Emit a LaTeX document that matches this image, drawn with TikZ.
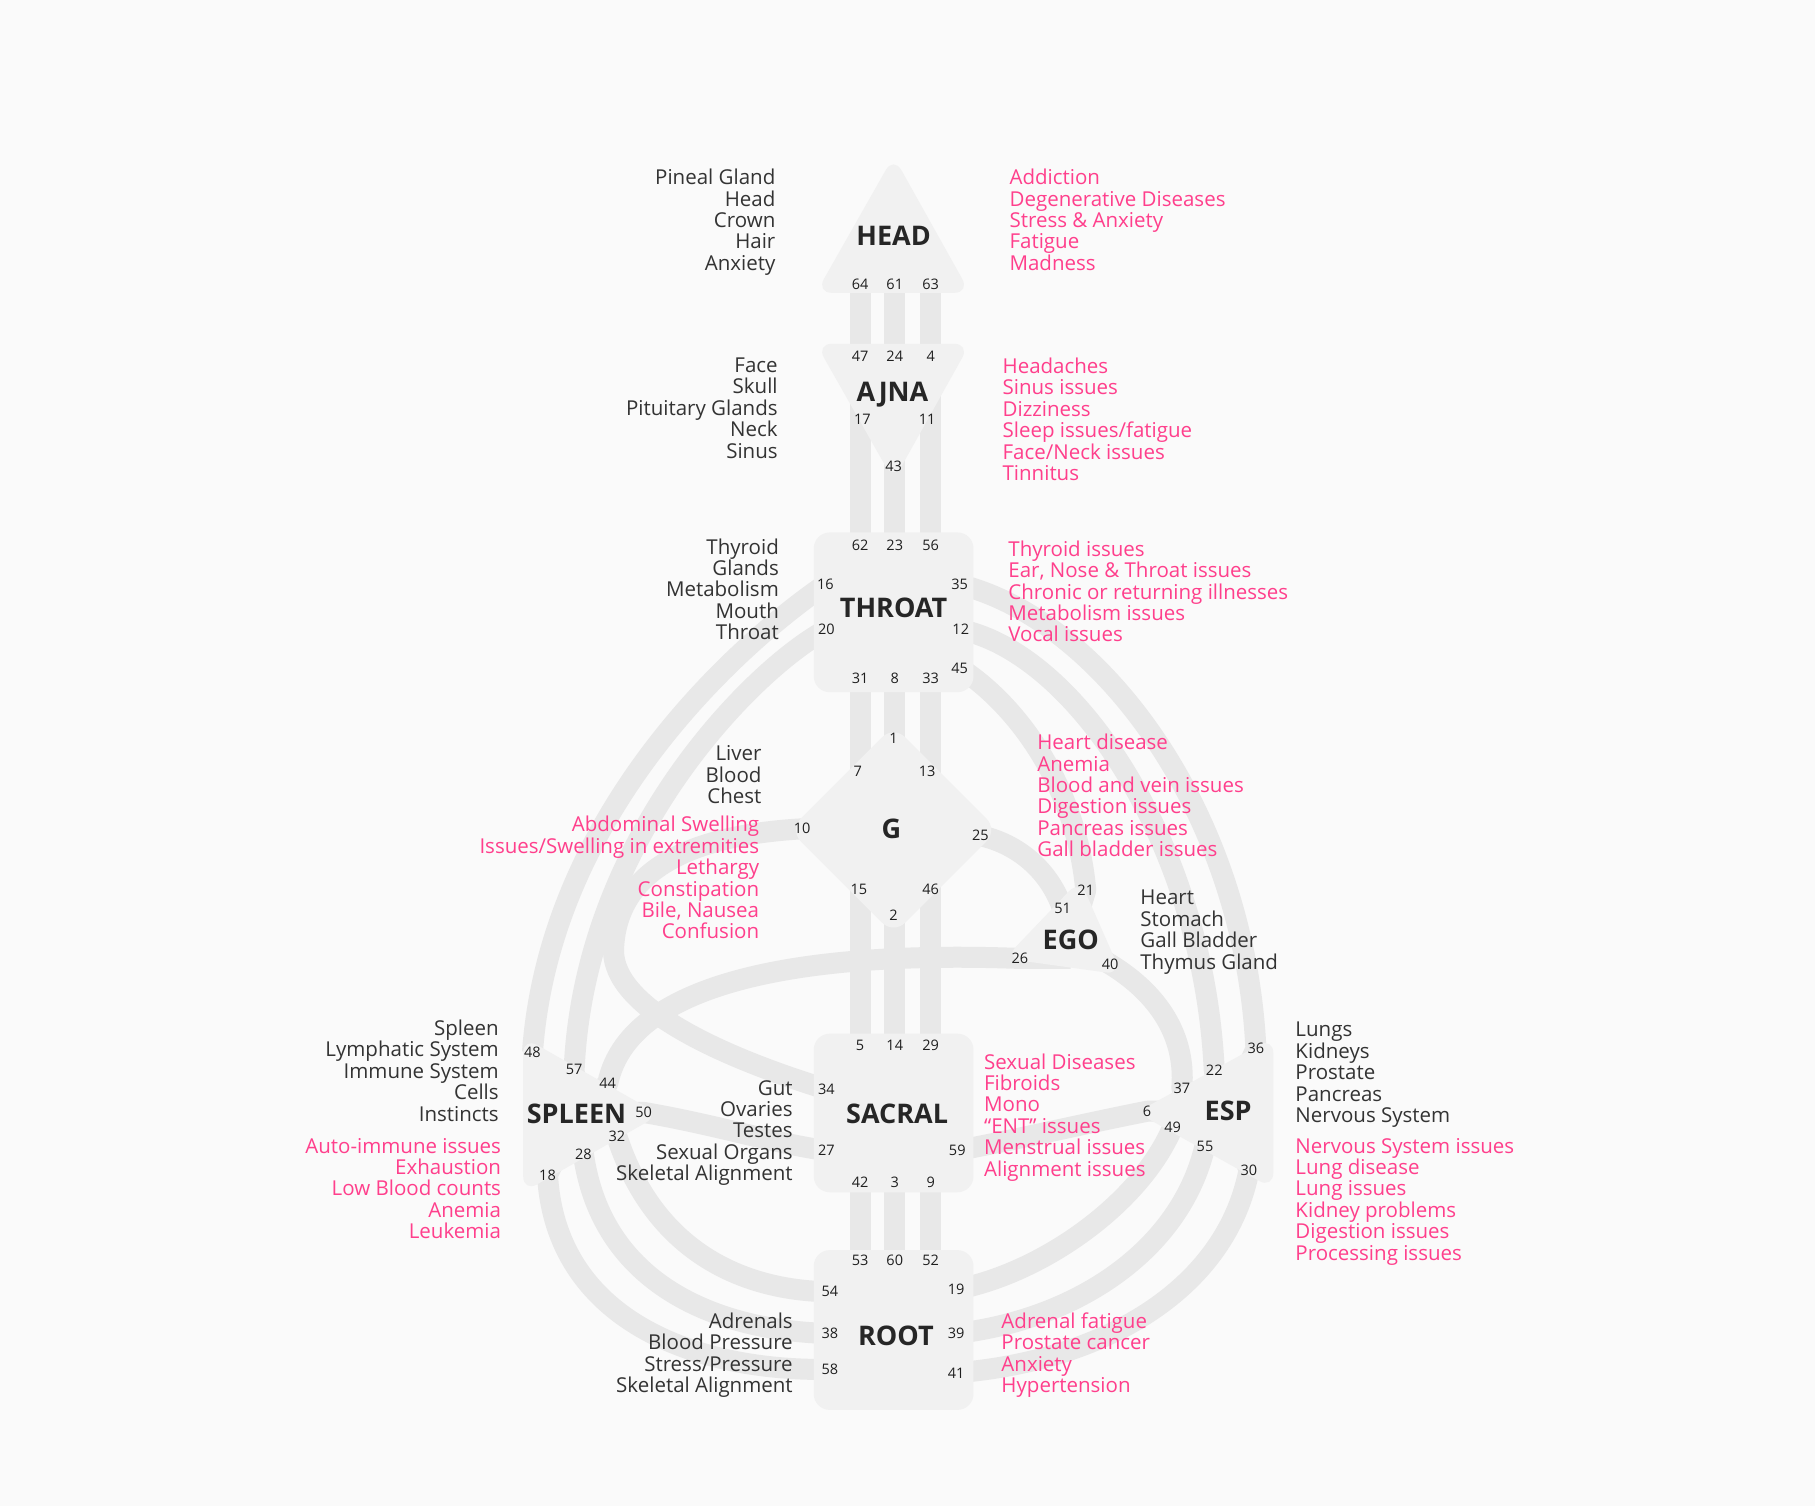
\documentclass[tikz,border=0pt]{standalone}
\usepackage{fontspec}
\setmainfont{Open Sans}
\usepackage{xcolor}
\usepackage{tikz}
\usetikzlibrary{backgrounds}

\definecolor{bgcol}{HTML}{FAFAFA}
\definecolor{chancol}{HTML}{E8E8E8}
\definecolor{ctrcol}{HTML}{F1F1F1}
\definecolor{inkcol}{HTML}{333333}
\definecolor{pinkcol}{HTML}{FF3F8C}

\tikzstyle{chan}  =[draw=chancol, line width=21pt, line join=round]
\tikzstyle{ctr}   =[fill=ctrcol, rounded corners=16pt]
\tikzstyle{gate}  =[inner sep=0pt, text=black!88, font=\fontsize{14.5}{15}\selectfont]
\tikzstyle{cname} =[inner sep=0pt, text=black!85, font=\fontsize{27}{28}\selectfont\bfseries]
\tikzstyle{organ} =[inner sep=0pt, text=inkcol, font=\fontsize{20.5}{21.4}\selectfont]
\tikzstyle{issue} =[inner sep=0pt, text=pinkcol, font=\fontsize{20.5}{21.4}\selectfont]

\begin{document}
\begin{tikzpicture}[x=1.1576pt, y=-1.1576pt]

  \useasboundingbox (0,0) rectangle (1568,1301);

  % ── centres ───────────────────────────────────────────────────────────────
  \fill[ctr] (772,135) -- (838,253) -- (705,253) -- cycle;          % head
  \fill[ctr] (705,297) -- (838,297) -- (772,415) -- cycle;          % ajna
  \fill[ctr] (703,460) rectangle (841,598);                         % throat
  \fill[ctr] (772,627) -- (862,717) -- (772,807) -- (682,717) -- cycle; % g
  \fill[ctr] (933,760) -- (969,842) -- (868,828) -- cycle;          % ego
  \fill[ctr] (982,961) -- (1100,896) -- (1100,1027) -- cycle;       % esp
  \fill[ctr] (452,896) -- (570,963) -- (452,1030) -- cycle;         % spleen
  \fill[ctr] (703,893) rectangle (841,1030);                        % sacral
  \fill[ctr] (703,1080) rectangle (841,1218);                       % root

  \node[cname] (head)   at (772,204)  {HEAD};
  \node[cname] (ajna)   at (771,341)  {AJNA};
  \node[cname] (throat) at (772,525)  {THROAT};
  \node[cname] (gc)     at (770,716)  {G};
  \node[cname] (ego)    at (925,812)  {EGO};
  \node[cname] (esp)    at (1061,960) {ESP};
  \node[cname] (spleen) at (498,962)  {SPLEEN};
  \node[cname] (sacral) at (775,962)  {SACRAL};
  \node[cname] (root)   at (774,1154) {ROOT};

  % ── gates ─────────────────────────────────────────────────────────────────
  \node[gate] (g64) at (743,246) {64};  \node[gate] (g61) at (773,246) {61};
  \node[gate] (g63) at (804,246) {63};

  \node[gate] (g47) at (743,308) {47};  \node[gate] (g24) at (773,308) {24};
  \node[gate] (g4)  at (804,308) {4};   \node[gate] (g17) at (745,362) {17};
  \node[gate] (g11) at (801,362) {11};  \node[gate] (g43) at (772,403) {43};

  \node[gate] (g62) at (743,471) {62};  \node[gate] (g23) at (773,471) {23};
  \node[gate] (g56) at (804,471) {56};  \node[gate] (g16) at (713,505) {16};
  \node[gate] (g35) at (829,505) {35};  \node[gate] (g20) at (714,544) {20};
  \node[gate] (g12) at (830,544) {12};  \node[gate] (g31) at (743,586) {31};
  \node[gate] (g8)  at (773,586) {8};   \node[gate] (g33) at (804,586) {33};
  \node[gate] (g45) at (829,577) {45};

  \node[gate] (g1)  at (772,638) {1};   \node[gate] (g7)  at (741,666) {7};
  \node[gate] (g13) at (801,666) {13};  \node[gate] (g10) at (693,716) {10};
  \node[gate] (g25) at (847,722) {25};  \node[gate] (g15) at (742,768) {15};
  \node[gate] (g46) at (804,768) {46};  \node[gate] (g2)  at (772,791) {2};

  \node[gate] (g21) at (938,769) {21};  \node[gate] (g51) at (918,785) {51};
  \node[gate] (g26) at (881,828) {26};  \node[gate] (g40) at (959,833) {40};

  \node[gate] (g36) at (1085,906) {36}; \node[gate] (g22) at (1049,925) {22};
  \node[gate] (g37) at (1021,940) {37}; \node[gate] (g6)  at (991,960) {6};
  \node[gate] (g49) at (1013,974) {49}; \node[gate] (g55) at (1041,990) {55};
  \node[gate] (g30) at (1079,1011) {30};

  \node[gate] (g48) at (460,909) {48};  \node[gate] (g57) at (496,924) {57};
  \node[gate] (g44) at (525,936) {44};  \node[gate] (g50) at (556,961) {50};
  \node[gate] (g32) at (533,982) {32};  \node[gate] (g28) at (504,997) {28};
  \node[gate] (g18) at (473,1015) {18};

  \node[gate] (g5)  at (743,903) {5};   \node[gate] (g14) at (773,903) {14};
  \node[gate] (g29) at (804,903) {29};  \node[gate] (g34) at (714,941) {34};
  \node[gate] (g27) at (714,994) {27};  \node[gate] (g59) at (827,994) {59};
  \node[gate] (g42) at (743,1021) {42}; \node[gate] (g3)  at (773,1021) {3};
  \node[gate] (g9)  at (804,1021) {9};

  \node[gate] (g53) at (743,1089) {53}; \node[gate] (g60) at (773,1089) {60};
  \node[gate] (g52) at (804,1089) {52}; \node[gate] (g54) at (717,1116) {54};
  \node[gate] (g19) at (826,1114) {19}; \node[gate] (g38) at (717,1152) {38};
  \node[gate] (g39) at (826,1152) {39}; \node[gate] (g58) at (717,1183) {58};
  \node[gate] (g41) at (826,1186) {41};

  % ── channels (behind the centres) ─────────────────────────────────────────
  \begin{pgfonlayer}{background}
    \fill[bgcol] (0,0) rectangle (1568,1301);

    \draw[chan] (g64.center) -- (g47.center);
    \draw[chan] (g61.center) -- (g24.center);
    \draw[chan] (g63.center) -- (g4.center);

    \draw[chan] (g62.center) -- (g47.center);
    \draw[chan] (g23.center) -- (g23.center |- ajna.center);
    \draw[chan] (g56.center) -- (g4.center);

    \draw[chan] (g31.center) -- (g31.center |- gc.center);
    \draw[chan] (g8.center)  -- (g8.center |- gc.center);
    \draw[chan] (g33.center) -- (g33.center |- gc.center);

    \draw[chan] (g5.center)  -- (g5.center |- gc.center);
    \draw[chan] (g14.center) -- (g14.center |- gc.center);
    \draw[chan] (g29.center) -- (g29.center |- gc.center);

    \draw[chan] (g42.center) -- (g53.center);
    \draw[chan] (g3.center)  -- (g60.center);
    \draw[chan] (g9.center)  -- (g52.center);

    % throat to spleen, g to sacral, ego to spleen
    \draw[chan] (g16.center) .. controls (640,555) and (475,700) .. (g48.center);
    \draw[chan] (g20.center) .. controls (655,575) and (505,720) .. (g57.center) -- (spleen.center);
    \draw[chan] (gc.center) -- (g10.center) .. controls (590,722) and (532,755) .. (530,821)
                .. controls (530,870) and (620,912) .. (g34.center);
    \draw[chan] (ego.center |- g26.center) -- (g26.center) .. controls (720,822) and (545,840)
                .. (g44.center) -- (spleen.center);

    % g, throat and ego
    \draw[chan] (gc.center) -- (g25.center) .. controls (875,728) and (905,748) .. (g51.center) -- (ego.center);
    \draw[chan] (g45.center) .. controls (880,610) and (930,680) .. (g21.center) -- (ego.center);
    \draw[chan] (ego.center) -- (g40.center) .. controls (995,855) and (1025,890) .. (g37.center) -- (esp.center);

    % throat to esp
    \draw[chan] (g35.center) .. controls (950,535) and (1075,700) .. (g36.center) -- (esp.center);
    \draw[chan] (g12.center) .. controls (930,565) and (1040,730) .. (g22.center) -- (esp.center);

    % sacral sides
    \draw[chan] (g59.center) .. controls (890,982) and (940,970) .. (g6.center) -- (esp.center);
    \draw[chan] (g27.center) .. controls (670,988) and (620,972) .. (g50.center) -- (spleen.center);

    % root to spleen
    \draw[chan] (spleen.center) -- (g32.center) .. controls (565,1080) and (640,1115) .. (g54.center);
    \draw[chan] (spleen.center) -- (g28.center) .. controls (520,1110) and (620,1150) .. (g38.center);
    \draw[chan] (spleen.center) -- (g18.center) .. controls (480,1140) and (600,1185) .. (g58.center);

    % root to esp
    \draw[chan] (g19.center) .. controls (900,1100) and (985,1040) .. (g49.center) -- (esp.center);
    \draw[chan] (g39.center) .. controls (930,1140) and (1020,1080) .. (g55.center) -- (esp.center);
    \draw[chan] (g41.center) .. controls (960,1175) and (1060,1110) .. (g30.center) -- (esp.center);
  \end{pgfonlayer}

  % ── labels ────────────────────────────────────────────────────────────────
  \node[organ, anchor=north east, align=right] (headorg) at (670,146)
       {Pineal Gland\\Head\\Crown\\Hair\\Anxiety};
  \node[issue, anchor=north west, align=left] (headiss) at (872,146)
       {Addiction\\Degenerative Diseases\\Stress \& Anxiety\\Fatigue\\Madness};

  \node[organ, anchor=north east, align=right] (ajnaorg) at (672,309)
       {Face\\Skull\\Pituitary Glands\\Neck\\Sinus};
  \node[issue, anchor=north west, align=left] (ajnaiss) at (866,309)
       {Headaches\\Sinus issues\\Dizziness\\Sleep issues/fatigue\\Face/Neck issues\\Tinnitus};

  \node[organ, anchor=north east, align=right] (throatorg) at (673,465)
       {Thyroid\\Glands\\Metabolism\\Mouth\\Throat};
  \node[issue, anchor=north west, align=left] (throatiss) at (871,467)
       {Thyroid issues\\Ear, Nose \& Throat issues\\Chronic or returning illnesses\\Metabolism issues\\Vocal issues};

  \node[organ, anchor=north east, align=right] (gorg) at (658,644)
       {Liver\\Blood\\Chest};
  \node[issue, anchor=north east, align=right] (giss) at (656,705)
       {Abdominal Swelling\\Issues/Swelling in extremities\\Lethargy\\Constipation\\Bile, Nausea\\Confusion};
  \node[issue, anchor=north west, align=left] (egoiss) at (896,634)
       {Heart disease\\Anemia\\Blood and vein issues\\Digestion issues\\Pancreas issues\\Gall bladder issues};
  \node[organ, anchor=north west, align=left] (egoorg) at (985,769)
       {Heart\\Stomach\\Gall Bladder\\Thymus Gland};

  \node[organ, anchor=north east, align=right] (spleenorg) at (431,881)
       {Spleen\\Lymphatic System\\Immune System\\Cells\\Instincts};
  \node[issue, anchor=north east, align=right] (spleeniss) at (433,983)
       {Auto-immune issues\\Exhaustion\\Low Blood counts\\Anemia\\Leukemia};

  \node[organ, anchor=north east, align=right] (sacralorg) at (685,933)
       {Gut\\Ovaries\\Testes\\Sexual Organs\\Skeletal Alignment};
  \node[issue, anchor=north west, align=left] (sacraliss) at (850,910)
       {Sexual Diseases\\Fibroids\\Mono\\“ENT” issues\\Menstrual issues\\Alignment issues};

  \node[organ, anchor=north west, align=left] (esporg) at (1119,883)
       {Lungs\\Kidneys\\Prostate\\Pancreas\\Nervous System};
  \node[issue, anchor=north west, align=left] (espiss) at (1119,983)
       {Nervous System issues\\Lung disease\\Lung issues\\Kidney problems\\Digestion issues\\Processing issues};

  \node[organ, anchor=north east, align=right] (rootorg) at (685,1134)
       {Adrenals\\Blood Pressure\\Stress/Pressure\\Skeletal Alignment};
  \node[issue, anchor=north west, align=left] (rootiss) at (865,1134)
       {Adrenal fatigue\\Prostate cancer\\Anxiety\\Hypertension};

\end{tikzpicture}
\end{document}
